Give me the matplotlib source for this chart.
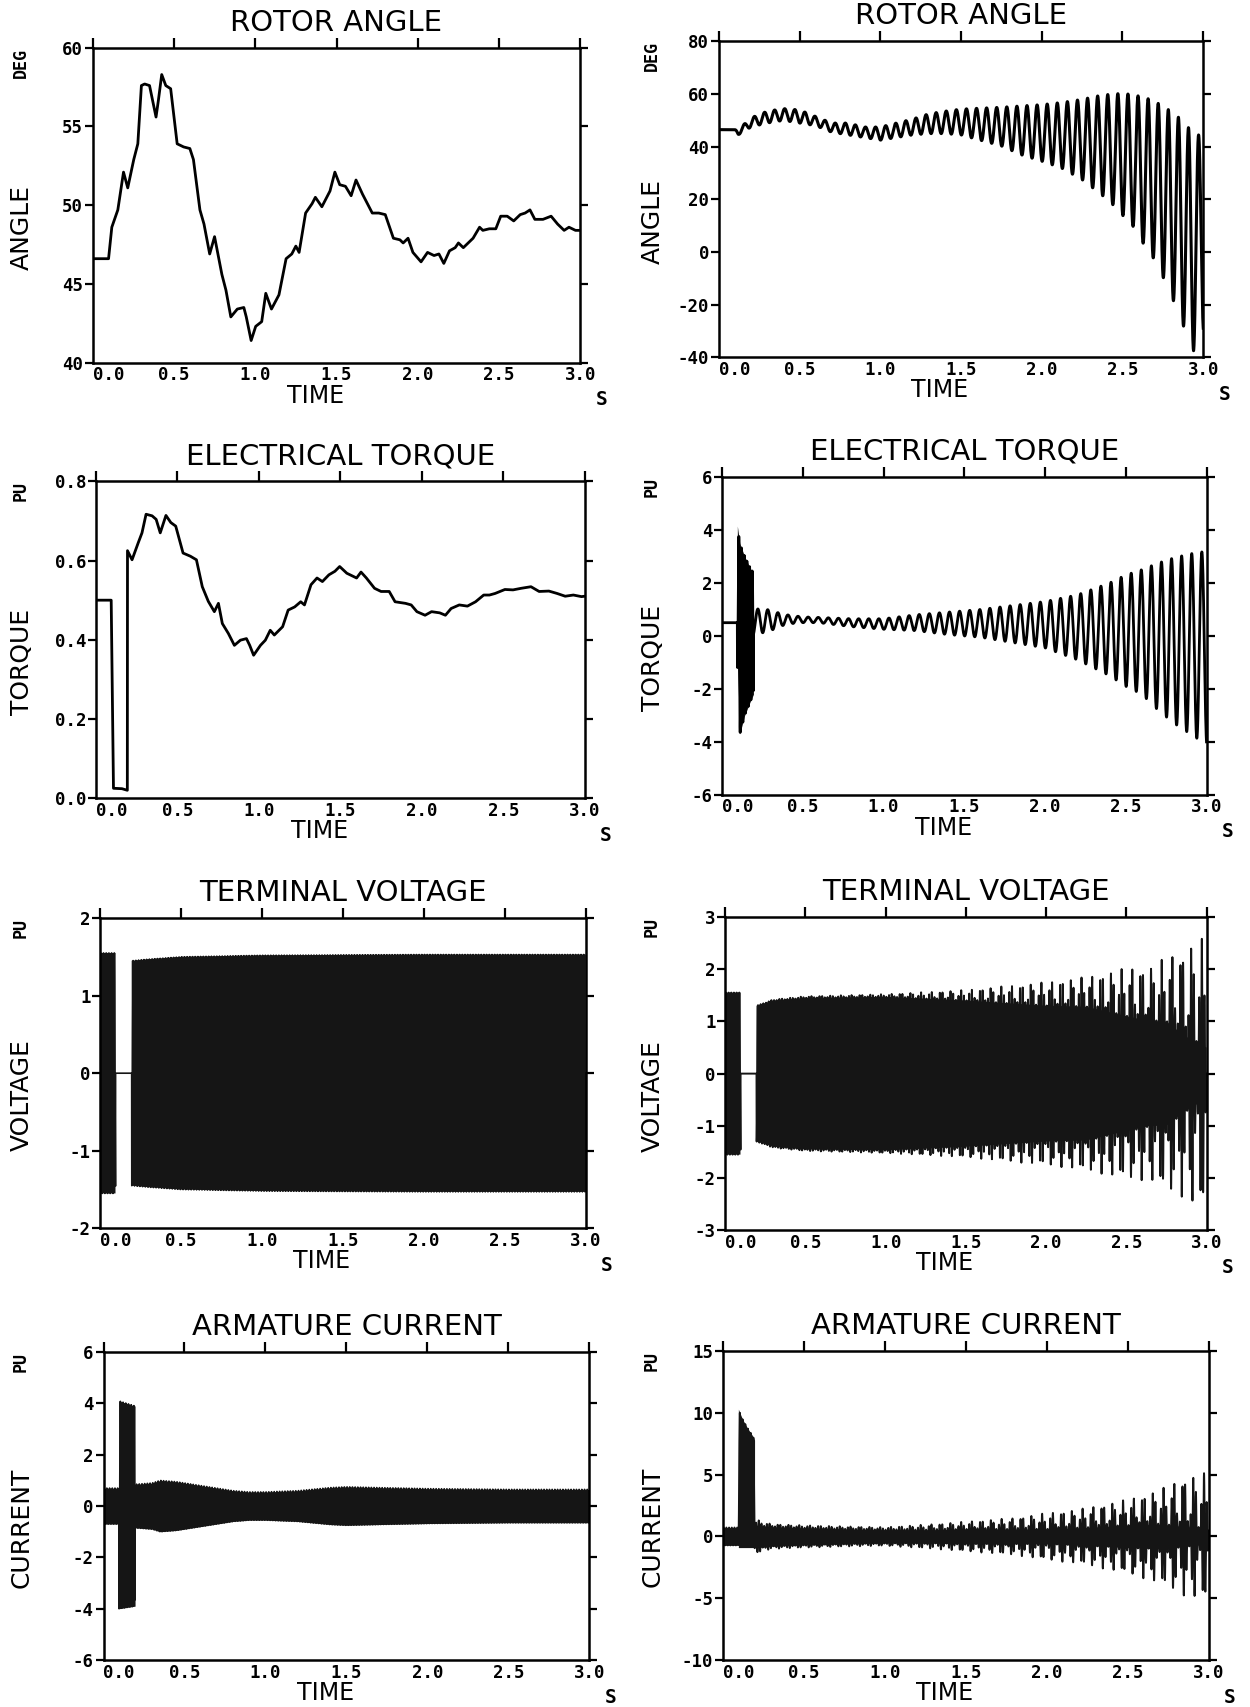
import numpy as np
import matplotlib.pyplot as plt

plt.rcParams['axes.unicode_minus'] = False

# ---------------- data ----------------
fault_on = 0.095     # s
fault_off = 0.195    # s
f_sys = 60.0         # network frequency, Hz
f_ssr = 16.0         # torsional swing seen in the right column, Hz
ssr_phase = 0.018    # s

# left column, rotor angle (deg)
ra1_t = [0.0, 0.098, 0.118, 0.155, 0.19, 0.216, 0.253, 0.278, 0.30, 0.32, 0.35, 0.39, 0.405,
         0.425, 0.45, 0.48, 0.52, 0.56, 0.598, 0.62, 0.66, 0.685, 0.72, 0.75, 0.795, 0.82,
         0.85, 0.89, 0.93, 0.945, 0.975, 1.003, 1.04, 1.065, 1.10, 1.146, 1.19, 1.225, 1.25,
         1.27, 1.31, 1.35, 1.37, 1.41, 1.46, 1.49, 1.52, 1.555, 1.59, 1.62, 1.66, 1.69, 1.72,
         1.76, 1.80, 1.85, 1.89, 1.91, 1.94, 1.97, 2.02, 2.06, 2.10, 2.13, 2.16, 2.195, 2.23,
         2.25, 2.28, 2.34, 2.38, 2.40, 2.44, 2.48, 2.51, 2.55, 2.59, 2.63, 2.66, 2.69, 2.72,
         2.77, 2.82, 2.86, 2.90, 2.93, 2.97, 3.0]
ra1_v = [46.6, 46.6, 48.6, 49.7, 52.1, 51.1, 52.9, 53.9, 57.6, 57.7, 57.6, 55.6, 56.7,
         58.3, 57.6, 57.4, 53.9, 53.7, 53.6, 52.9, 49.7, 48.8, 46.9, 48.0, 45.6, 44.6,
         42.9, 43.4, 43.5, 42.9, 41.4, 42.3, 42.6, 44.4, 43.4, 44.3, 46.6, 46.9, 47.4,
         47.0, 49.5, 50.1, 50.5, 49.9, 50.9, 52.1, 51.3, 51.2, 50.6, 51.6, 50.7, 50.1, 49.5,
         49.5, 49.4, 47.9, 47.8, 47.6, 47.9, 47.0, 46.4, 47.0, 46.8, 46.9, 46.3, 47.1, 47.3,
         47.6, 47.3, 47.9, 48.6, 48.4, 48.5, 48.5, 49.3, 49.3, 49.0, 49.4, 49.5, 49.7, 49.1,
         49.1, 49.3, 48.8, 48.4, 48.6, 48.4, 48.4]

# left column, electrical torque (pu)
te1_t = [0.0, 0.094, 0.108, 0.16, 0.193, 0.194, 0.222, 0.26, 0.283, 0.308, 0.345, 0.37, 0.395,
         0.43, 0.46, 0.49, 0.535, 0.58, 0.617, 0.653, 0.69, 0.727, 0.752, 0.776, 0.813, 0.85,
         0.887, 0.924, 0.944, 0.968, 1.01, 1.04, 1.07, 1.095, 1.146, 1.18, 1.22, 1.257, 1.28,
         1.32, 1.357, 1.39, 1.43, 1.467, 1.496, 1.54, 1.58, 1.60, 1.627, 1.66, 1.71, 1.75,
         1.80, 1.836, 1.90, 1.935, 1.97, 2.02, 2.06, 2.11, 2.145, 2.18, 2.23, 2.28, 2.33,
         2.38, 2.415, 2.45, 2.51, 2.56, 2.61, 2.67, 2.72, 2.78, 2.83, 2.88, 2.93, 2.98, 3.0]
te1_v = [0.50, 0.50, 0.025, 0.024, 0.02, 0.625, 0.602, 0.645, 0.67, 0.717, 0.713, 0.704, 0.670,
         0.714, 0.696, 0.687, 0.619, 0.611, 0.602, 0.534, 0.497, 0.471, 0.492, 0.441, 0.416, 0.386,
         0.399, 0.403, 0.386, 0.361, 0.386, 0.399, 0.424, 0.412, 0.433, 0.475, 0.483, 0.496, 0.488,
         0.539, 0.556, 0.547, 0.564, 0.573, 0.585, 0.568, 0.560, 0.556, 0.571, 0.556, 0.530, 0.522,
         0.522, 0.496, 0.492, 0.488, 0.471, 0.462, 0.471, 0.468, 0.462, 0.479, 0.488, 0.485, 0.496,
         0.513, 0.513, 0.517, 0.527, 0.526, 0.530, 0.534, 0.522, 0.523, 0.517, 0.510, 0.513, 0.509, 0.51]

# right column, rotor angle: upper / lower envelope of the 16 Hz swing (deg)
ra2_t = [0.0, 0.095, 0.12, 0.2, 0.3, 0.4, 0.5, 0.6, 0.7, 0.8, 0.9, 1.0, 1.1, 1.2, 1.3, 1.4, 1.5,
         1.6, 1.75, 1.87, 2.0, 2.12, 2.25, 2.37, 2.44, 2.5, 2.56, 2.62, 2.68, 2.75, 2.81, 2.87,
         2.94, 3.0]
ra2_hi = [46.5, 46.5, 46.5, 51, 53.5, 54.5, 54, 51.5, 49, 49, 47.5, 47.5, 49, 50.5, 52.5, 53.5,
          54.3, 54.6, 55, 55.5, 56, 56.8, 58, 59.6, 60, 60.3, 59.8, 59, 57.8, 55.5, 53, 50, 45, 44]
ra2_lo = [46.5, 46.5, 44.5, 47.5, 49, 50, 49, 48, 45.5, 44.5, 43.5, 42.5, 43.5, 44.5, 45, 45,
          44.5, 42.8, 40.3, 37, 34.5, 32, 27.5, 21.8, 18, 14, 10.3, 4, -1, -9.4, -17.7, -27,
          -37.5, -30]

# right column, electrical torque (pu)
te2_pre = 0.5
te2_flt_t = [0.095, 0.11, 0.14, 0.16, 0.18, 0.195]
te2_flt_hi = [4.15, 3.5, 3.0, 2.75, 2.5, 2.4]
te2_flt_lo = [-1.0, -3.7, -3.0, -2.7, -2.4, -2.2]
te2_t = [0.195, 0.24, 0.3, 0.4, 0.5, 0.6, 0.8, 1.0, 1.2, 1.4, 1.6, 1.8, 2.0, 2.2, 2.4, 2.5,
         2.6, 2.7, 2.8, 2.9, 3.0]
te2_hi = [0.9, 1.1, 0.95, 0.8, 0.72, 0.7, 0.65, 0.65, 0.8, 0.9, 1.0, 1.15, 1.3, 1.55, 2.0, 2.3,
          2.5, 2.75, 2.95, 3.1, 3.2]
te2_lo = [0.0, 0.1, 0.2, 0.45, 0.5, 0.5, 0.35, 0.25, 0.2, 0.05, -0.05, -0.25, -0.45, -0.9, -1.5,
          -1.9, -2.2, -2.8, -3.3, -3.7, -4.1]

# left column, terminal voltage amplitude (pu)
vt1_pre = 1.55
vt1_t = [0.195, 0.3, 0.5, 1.0, 2.0, 3.0]
vt1_amp = [1.45, 1.47, 1.5, 1.52, 1.53, 1.53]

# right column, terminal voltage: spike tips and solid band (pu)
vt2_pre = 1.55
vt2_t = [0.195, 0.3, 0.5, 1.0, 1.5, 2.0, 2.25, 2.5, 2.65, 2.75, 2.85, 2.95, 3.0]
vt2_peak = [1.3, 1.42, 1.48, 1.52, 1.6, 1.75, 1.85, 2.02, 2.05, 2.23, 2.36, 2.58, 2.58]
vt2_base = [1.3, 1.4, 1.45, 1.47, 1.4, 1.3, 1.28, 1.1, 1.0, 1.0, 0.75, 0.57, 0.5]

# left column, armature current (pu)
ia1_pre = 0.7
ia1_flt_t = [0.095, 0.195]
ia1_flt_hi = [4.1, 3.9]
ia1_flt_lo = [-4.0, -3.9]
ia1_t = [0.195, 0.3, 0.35, 0.45, 0.55, 0.7, 0.8, 0.9, 1.0, 1.2, 1.4, 1.5, 1.7, 2.0, 2.5, 3.0]
ia1_amp = [0.85, 0.9, 1.0, 0.95, 0.85, 0.7, 0.6, 0.55, 0.55, 0.6, 0.72, 0.75, 0.72, 0.68, 0.65, 0.65]

# right column, armature current (pu)
ia2_pre = 0.72
ia2_flt_t = [0.095, 0.12, 0.15, 0.18, 0.195]
ia2_flt_hi = [10.3, 9.5, 8.8, 8.2, 7.8]
ia2_flt_lo = [0.05, 0.05, 0.05, 0.05, 0.05]
ia2_t = [0.195, 0.22, 0.3, 0.5, 0.8, 1.0, 1.3, 1.5, 1.8, 2.0, 2.2, 2.5, 2.7, 2.85, 3.0]
ia2_peak = [1.45, 1.3, 1.0, 0.9, 0.8, 0.75, 1.0, 1.2, 1.5, 1.9, 2.2, 3.0, 3.8, 4.8, 5.2]
ia2_base = [0.9, 0.9, 0.8, 0.7, 0.6, 0.55, 0.55, 0.6, 0.6, 0.6, 0.7, 0.9, 1.0, 0.8, 0.6]

# ---------------- build traces ----------------
tt = np.linspace(0.0, 3.0, 30001)
pre = tt < fault_on
flt = (tt >= fault_on) & (tt < fault_off)
post = tt >= fault_off
carrier = np.sin(2 * np.pi * f_sys * tt)
swing = np.sin(2 * np.pi * f_ssr * (tt - ssr_phase))


def env(t_pts, vals):
    return np.interp(tt, t_pts, vals)


def band(t_pts, hi, lo, wave):
    hi_i, lo_i = env(t_pts, hi), env(t_pts, lo)
    return (hi_i + lo_i) / 2 + (hi_i - lo_i) / 2 * wave


def modulated(t_pts, peak, base):
    b = env(t_pts, base)
    a = b + (env(t_pts, peak) - b) * (0.5 + 0.5 * swing)
    return a * carrier


ra2 = band(ra2_t, ra2_hi, ra2_lo, swing)

te2 = np.where(pre, te2_pre, 0.0)
te2 = np.where(flt, band(te2_flt_t, te2_flt_hi, te2_flt_lo, carrier), te2)
te2 = np.where(post, band(te2_t, te2_hi, te2_lo, swing), te2)

vt1 = np.where(pre, vt1_pre * carrier, 0.0)
vt1 = np.where(post, env(vt1_t, vt1_amp) * carrier, vt1)
vt1_solid = np.where(pre, vt1_pre, np.where(post, env(vt1_t, vt1_amp), 0.0))

vt2 = np.where(pre, vt2_pre * carrier, 0.0)
vt2 = np.where(post, modulated(vt2_t, vt2_peak, vt2_base), vt2)
vt2_solid = np.where(pre, vt2_pre, np.where(post, env(vt2_t, vt2_base), 0.0))

ia1 = np.where(pre, ia1_pre * carrier, 0.0)
ia1 = np.where(flt, band(ia1_flt_t, ia1_flt_hi, ia1_flt_lo, carrier), ia1)
ia1 = np.where(post, env(ia1_t, ia1_amp) * carrier, ia1)
ia1_solid = np.where(pre, ia1_pre, env(ia1_t, ia1_amp))

ia2 = np.where(pre, ia2_pre * carrier, 0.0)
ia2 = np.where(flt, band(ia2_flt_t, ia2_flt_hi, ia2_flt_lo, carrier), ia2)
ia2 = np.where(post, modulated(ia2_t, ia2_peak, ia2_base), ia2)
ia2_solid = np.where(pre, ia2_pre, env(ia2_t, ia2_base))

# ---------------- figure ----------------
fig = plt.figure(figsize=(12.5, 17.07), dpi=100)

rects = {
    (0, 0): [0.0741, 0.7876, 0.3902, 0.1844], (0, 1): [0.5750, 0.7907, 0.3876, 0.1850],
    (1, 0): [0.0767, 0.5324, 0.3911, 0.1856], (1, 1): [0.5776, 0.5343, 0.3876, 0.1863],
    (2, 0): [0.0801, 0.2804, 0.3885, 0.1818], (2, 1): [0.5802, 0.2792, 0.3850, 0.1837],
    (3, 0): [0.0828, 0.0275, 0.3886, 0.1804], (3, 1): [0.5784, 0.0275, 0.3886, 0.1810],
}

mono = 'DejaVu Sans Mono'


def setup(row, col, title, unit, name, yticks, yfmt):
    ax = fig.add_axes(rects[(row, col)])
    ax.set_xlim(0, 3.0)
    ax.set_ylim(yticks[0], yticks[-1])
    ax.set_xticks(np.arange(0, 3.01, 0.5))
    ax.set_xticklabels(['%.1f' % v for v in np.arange(0, 3.01, 0.5)])
    ax.set_yticks(yticks)
    ax.set_yticklabels([yfmt % v for v in yticks])
    ax.tick_params(axis='y', direction='out', right=True, length=6, width=1.6, pad=1,
                   labelsize=12.5)
    ax.tick_params(axis='x', direction='out', top=True, bottom=False, length=7, width=1.6,
                   pad=-4.5, labelsize=12.5)
    for lab in ax.get_xticklabels() + ax.get_yticklabels():
        lab.set_fontfamily(mono)
        lab.set_fontweight('bold')
    # the first time label starts at the frame, as on the plotter output
    ax.get_xticklabels()[0].set_horizontalalignment('left')
    for sp in ax.spines.values():
        sp.set_linewidth(1.8)
    ax.annotate(title, xy=(0.5, 1.0), xycoords='axes fraction', xytext=(0, 17),
                textcoords='offset pixels', ha='center', va='baseline', fontsize=21)
    ax.annotate('TIME', xy=(1.37 / 3.0, 0.0), xycoords='axes fraction', xytext=(0, -33),
                textcoords='offset pixels', ha='center', va='center', fontsize=17)
    ax.annotate('S', xy=(1.0, 0.0), xycoords='axes fraction', xytext=(21, -37),
                textcoords='offset pixels', ha='center', va='center', fontsize=14,
                family=mono, fontweight='bold')
    pos = ax.get_position()
    lx = 0.0176 if col == 0 else 0.5224
    fig.text(lx - 0.001, pos.y1, unit, rotation=90, ha='center', va='top', fontsize=12,
             family=mono, fontweight='bold')
    fig.text(lx, pos.y0 + 0.43 * pos.height, name, rotation=90, ha='center', va='center',
             fontsize=18)
    return ax


ax = setup(0, 0, 'ROTOR ANGLE', 'DEG', 'ANGLE', [40, 45, 50, 55, 60], '%d')
ax.plot(ra1_t, ra1_v, color='black', lw=2.0)

ax = setup(0, 1, 'ROTOR ANGLE', 'DEG', 'ANGLE', [-40, -20, 0, 20, 40, 60, 80], '%d')
ax.plot(tt, ra2, color='black', lw=2.2)

ax = setup(1, 0, 'ELECTRICAL TORQUE', 'PU', 'TORQUE', [0.0, 0.2, 0.4, 0.6, 0.8], '%.1f')
ax.plot(te1_t, te1_v, color='black', lw=2.0)

ax = setup(1, 1, 'ELECTRICAL TORQUE', 'PU', 'TORQUE', [-6, -4, -2, 0, 2, 4, 6], '%d')
ax.fill_between(tt, env(te2_flt_t, te2_flt_lo), env(te2_flt_t, te2_flt_hi), where=flt,
                color='#151515', lw=0)
ax.plot(tt, te2, color='black', lw=2.0)

ax = setup(2, 0, 'TERMINAL VOLTAGE', 'PU', 'VOLTAGE', [-2, -1, 0, 1, 2], '%d')
ax.fill_between(tt, -vt1_solid, vt1_solid, where=~flt, color='#151515', lw=0)
ax.plot(tt, vt1, color='#151515', lw=1.2)

ax = setup(2, 1, 'TERMINAL VOLTAGE', 'PU', 'VOLTAGE', [-3, -2, -1, 0, 1, 2, 3], '%d')
ax.fill_between(tt, -vt2_solid, vt2_solid, where=~flt, color='#151515', lw=0)
ax.plot(tt, vt2, color='#151515', lw=1.4)

ax = setup(3, 0, 'ARMATURE CURRENT', 'PU', 'CURRENT', [-6, -4, -2, 0, 2, 4, 6], '%d')
ax.fill_between(tt, -ia1_solid, ia1_solid, color='#151515', lw=0)
ax.fill_between(tt, env(ia1_flt_t, ia1_flt_lo), env(ia1_flt_t, ia1_flt_hi), where=flt,
                color='#151515', lw=0)
ax.plot(tt, ia1, color='#151515', lw=1.2)

ax = setup(3, 1, 'ARMATURE CURRENT', 'PU', 'CURRENT', [-10, -5, 0, 5, 10, 15], '%d')
ax.fill_between(tt, -ia2_solid, ia2_solid, color='#151515', lw=0)
ax.fill_between(tt, env(ia2_flt_t, ia2_flt_lo), env(ia2_flt_t, ia2_flt_hi), where=flt,
                color='#151515', lw=0)
ax.plot(tt, ia2, color='#151515', lw=1.4)

fig.savefig('out.png', dpi=100)
